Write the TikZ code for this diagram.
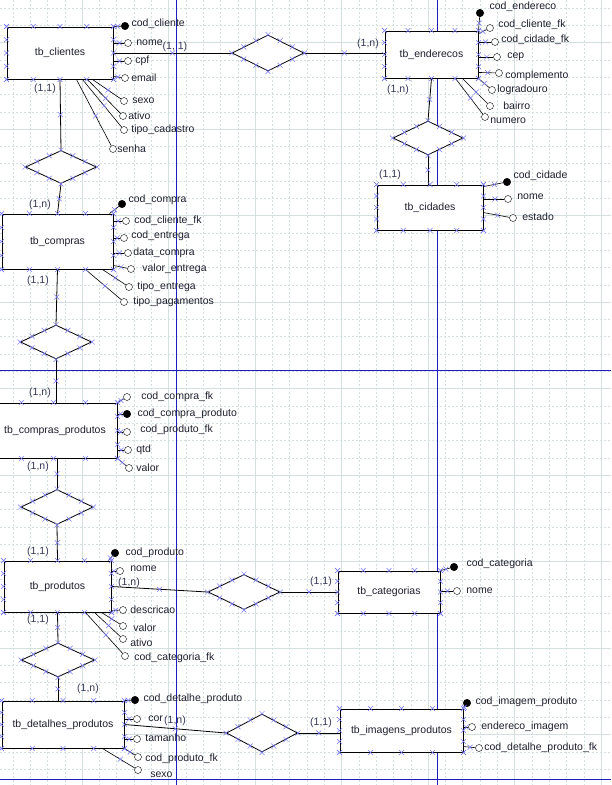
\documentclass[tikz,border=0pt]{standalone}
\usepackage{fontspec}
\setmainfont{Liberation Sans}
\usetikzlibrary{shapes.geometric,shapes.misc,calc,decorations.markings}

\definecolor{gridc}{RGB}{212,224,224}
\definecolor{pageblue}{RGB}{30,30,190}
\definecolor{xblue}{RGB}{120,120,240}
\definecolor{cardc}{RGB}{55,55,85}
\definecolor{txtc}{RGB}{30,30,45}

\tikzset{
  ent/.style={draw, fill=white, line width=0.9pt, rectangle, inner sep=0pt, text=txtc},
  rel/.style={draw, fill=white, diamond, line width=0.8pt, inner sep=0pt},
  pk/.style={circle, draw, fill=black, minimum size=7.5pt, inner sep=0pt},
  att/.style={circle, draw, fill=white, minimum size=7pt, inner sep=0pt},
  lbl/.style={inner sep=1pt, label distance=1.5pt, text=txtc},
  card/.style={text=cardc, inner sep=0pt},
  xmk/.style={cross out, draw=xblue, line width=0.5pt, minimum size=4.5pt, inner sep=0pt},
  link/.style={line width=0.8pt, postaction={decorate},
    decoration={markings, mark=at position 0.5 with {\node[xmk]{};}}},
  alink/.style={line width=0.6pt, postaction={decorate},
    decoration={markings, mark=at position 0.55 with {\node[xmk]{};}}}
}

% crosses round an entity and a relationship
\newcommand\markent[1]{%
  \foreach \f in {0,0.25,0.5,0.75,1}{
    \node[xmk] at ($(#1.north west)!\f!(#1.north east)$) {};
    \node[xmk] at ($(#1.south west)!\f!(#1.south east)$) {};
    \node[xmk] at ($(#1.north west)!\f!(#1.south west)$) {};
    \node[xmk] at ($(#1.north east)!\f!(#1.south east)$) {};
  }}
\newcommand\markrel[1]{%
  \foreach \p/\q in {north/east,east/south,south/west,west/north}{
    \node[xmk] at (#1.\p) {};
    \node[xmk] at ($(#1.\p)!0.33!(#1.\q)$) {};
    \node[xmk] at ($(#1.\p)!0.67!(#1.\q)$) {};
  }}

\begin{document}
\begin{tikzpicture}[x=1pt, y=-1pt, font=\fontsize{10.5}{12}\selectfont]
\useasboundingbox (0,0) rectangle (611,785);
% grid
\foreach \i in {0,...,35}
  \draw[gridc, dash pattern=on 2pt off 2pt] ({-4.5+17.3*\i},0) -- ++(0,785);
\foreach \j in {0,...,44}
  \draw[gridc, dash pattern=on 2pt off 2pt] (0,{7.9+17.3*\j}) -- ++(611,0);
\foreach \i in {0,...,7}
  \draw[gridc, line width=0.8pt] ({-4.5+86.5*\i},0) -- ++(0,785);
\foreach \j in {0,...,8}
  \draw[gridc, line width=0.8pt] (0,{42.5+86.5*\j}) -- ++(611,0);
% page borders
\draw[pageblue, line width=1pt] (176,0) -- (176,785);
\draw[pageblue, line width=1pt] (437.5,0) -- (437.5,785);
\draw[pageblue, line width=1pt] (0,370) -- (611,370) (0,779) -- (611,779);

% entities
\node[ent, minimum width=106pt, minimum height=52pt] (clientes) at (60,53) {tb\_clientes};
\node[ent, minimum width=93pt, minimum height=47pt] (enderecos) at (431.5,54.5) {tb\_enderecos};
\node[ent, minimum width=106pt, minimum height=45pt] (cidades) at (430,207.5) {tb\_cidades};
\node[ent, minimum width=111pt, minimum height=55pt] (compras) at (57.5,241.5) {tb\_compras};
\node[ent, minimum width=127pt, minimum height=55pt] (cprod) at (53.5,430.5) {\hspace*{3pt}tb\_compras\_produtos};
\node[ent, minimum width=107pt, minimum height=51pt] (produtos) at (57.5,586.5) {tb\_produtos};
\node[ent, minimum width=102pt, minimum height=42pt] (categorias) at (389,592) {tb\_categorias};
\node[ent, minimum width=122pt, minimum height=47pt] (detalhes) at (63,724.5) {tb\_detalhes\_produtos};
\node[ent, minimum width=123pt, minimum height=43pt] (imagens) at (401.5,730.5) {tb\_imagens\_produtos};

% relationships
\node[rel, minimum width=72pt, minimum height=36pt] (r1) at (268,53) {};
\node[rel, minimum width=70pt, minimum height=34pt] (r2) at (428,138) {};
\node[rel, minimum width=71pt, minimum height=33pt] (r3) at (61,167) {};
\node[rel, minimum width=71pt, minimum height=34pt] (r4) at (56,342) {};
\node[rel, minimum width=72pt, minimum height=35pt] (r5) at (57,507) {};
\node[rel, minimum width=72pt, minimum height=35pt] (r6) at (244,592) {};
\node[rel, minimum width=73pt, minimum height=34pt] (r7) at (58,660) {};
\node[rel, minimum width=71pt, minimum height=38pt] (r8) at (262,733) {};

\draw[link] (clientes.east) -- (r1.west);
\draw[link] (r1.east) -- (r1.east -| enderecos.west);
\draw[link] (enderecos.south) -- (r2.north);
\draw[link] (r2.south) -- (r2.south |- cidades.north);
\draw[link] (clientes.south) -- (r3.north);
\draw[link] (r3.south) -- (compras.north);
\draw[link] (compras.south) -- (r4.north);
\draw[link] (r4.south) -- (r4.south |- cprod.north);
\draw[link] (r5.north |- cprod.south) -- (r5.north);
\draw[link] (r5.south) -- (produtos.north);
\draw[link] (produtos.east) -- (r6.west);
\draw[link] (r6.east) -- (r6.east -| categorias.west);
\draw[link] (produtos.south) -- (r7.north);
\draw[link] (r7.south) -- (r7.south |- detalhes.north);
\draw[link] (detalhes.east) -- (r8.west);
\draw[link] (r8.east) -- (r8.east -| imagens.west);

% cardinalities
\node[card] (k1) at (175,47) {(1, 1)};
\node[card] (k2) at (368,44) {(1,n)};
\node[card] (k3) at (45,89) {(1,1)};
\node[card] (k4) at (40,205) {(1,n)};
\node[card] (k5) at (398,90) {(1,n)};
\node[card] (k6) at (390,175) {(1,1)};
\node[card] (k7) at (38,281) {(1,1)};
\node[card] (k8) at (40,393) {(1,n)};
\node[card] (k9) at (38,467) {(1,n)};
\node[card] (k10) at (38,552) {(1,1)};
\node[card] (k11) at (38,620) {(1,1)};
\node[card] (k12) at (129,583) {(1,n)};
\node[card] (k13) at (321,582) {(1,1)};
\node[card] (k14) at (88,689) {(1,n)};
\node[card] (k15) at (175,721) {(1,n)};
\node[card] (k16) at (321,723) {(1,1)};

% tb_clientes
\node[pk, label={[lbl, yshift=2pt]right:cod\_cliente}] (cl1) at (125,26) {};
\node[att, label={[lbl, xshift=2pt]right:nome}] (cl2) at (128,43) {};
\node[att, label={[lbl, xshift=1pt]right:cpf}] (cl3) at (128,61) {};
\node[att, label={[lbl]right:email}] (cl4) at (125,78) {};
\node[att, label={[lbl, xshift=2pt]right:sexo}] (cl5) at (124,101) {};
\node[att, label={[lbl, xshift=-1pt]right:ativo}] (cl6) at (123,116) {};
\node[att, label={[lbl, xshift=1pt]right:tipo\_cadastro}] (cl7) at (124,130) {};
\node[att, label={[lbl, xshift=-2pt]right:senha}] (cl8) at (113,149) {};
\draw[alink] (clientes.north east) -- (cl1);
\draw[alink] (clientes.east |- cl2) -- (cl2);
\draw[alink] (clientes.east |- cl3) -- (cl3);
\draw[alink] ([yshift=3pt]clientes.south east) -- (cl4);
\draw[alink] ([xshift=-21pt]clientes.south east) -- (cl5);
\draw[alink] ([xshift=-26pt]clientes.south east) -- (cl6);
\draw[alink] ([xshift=-31pt]clientes.south east) -- (cl7);
\draw[alink] ([xshift=-37pt]clientes.south east) -- (cl8);

% tb_enderecos
\node[pk, label={[lbl, xshift=3pt, yshift=6pt]right:cod\_endereco}] (en1) at (480,13) {};
\node[att, label={[lbl, xshift=2pt, yshift=3pt]right:cod\_cliente\_fk}] (en2) at (490,28) {};
\node[att, label={[lbl, yshift=2pt]right:cod\_cidade\_fk}] (en3) at (495,42) {};
\node[att, label={[lbl, xshift=4pt]right:cep}] (en4) at (497,57) {};
\node[att, label={[lbl, yshift=-3pt]right:complemento}] (en5) at (499,73) {};
\node[att, label={[lbl, xshift=-1pt]right:logradouro}] (en6) at (492,90) {};
\node[att, label={[lbl, xshift=7pt]right:bairro}] (en7) at (490,106) {};
\node[att, label={[lbl, xshift=-1pt, yshift=-4pt]right:numero}] (en8) at (485,117) {};
\draw[alink] (enderecos.north east) -- (en1);
\draw[alink] ([yshift=-3pt]enderecos.north east) -- (en2);
\draw[alink] (enderecos.east |- en3) -- (en3);
\draw[alink] (enderecos.east |- en4) -- (en4);
\draw[alink] ([yshift=6pt]enderecos.south east) -- (en5);
\draw[alink] (enderecos.south east) -- (en6);
\draw[alink] ([xshift=-16pt]enderecos.south east) -- (en7);
\draw[alink] ([xshift=-23pt]enderecos.south east) -- (en8);

% tb_cidades
\node[pk, label={[lbl, yshift=6pt]right:cod\_cidade}] (ci1) at (507,182) {};
\node[att, label={[lbl, xshift=3pt, yshift=2pt]right:nome}] (ci2) at (508,199) {};
\node[att, label={[lbl, xshift=3pt, yshift=1pt]right:estado}] (ci3) at (513,218) {};
\draw[alink] ([yshift=-2pt]cidades.north east) -- (ci1);
\draw[alink] (cidades.east |- ci2) -- (ci2);
\draw[alink] ([yshift=-28pt]cidades.north east) -- (ci3);

% tb_compras
\node[pk, label={[lbl, yshift=4pt]right:cod\_compra}] (co1) at (122,204) {};
\node[att, label={[lbl, xshift=2pt]right:cod\_cliente\_fk}] (co2) at (126,221) {};
\node[att, label={[lbl, xshift=1pt, yshift=2pt]right:cod\_entrega}] (co3) at (124,238) {};
\node[att, label={[lbl, xshift=-1pt]right:data\_compra}] (co4) at (128,253) {};
\node[att, label={[lbl, xshift=5pt]right:valor\_entrega}] (co5) at (131,269) {};
\node[att, label={[lbl, xshift=2pt]right:tipo\_entrega}] (co6) at (129,287) {};
\node[att, label={[lbl, xshift=3pt]right:tipo\_pagamentos}] (co7) at (124,302) {};
\draw[alink] ([xshift=-4pt]compras.north east) -- (co1);
\draw[alink] (compras.east |- co2) -- (co2);
\draw[alink] (compras.east |- co3) -- (co3);
\draw[alink] (compras.east |- co4) -- (co4);
\draw[alink] ([yshift=4pt]compras.south east) -- (co5);
\draw[alink] ([xshift=-11pt]compras.south east) -- (co6);
\draw[alink] ([xshift=-28pt]compras.south east) -- (co7);

% tb_compras_produtos
\node[att, label={[lbl, xshift=8pt]right:cod\_compra\_fk}] (cp1) at (127,397) {};
\node[pk, label={[lbl, xshift=4pt]right:cod\_compra\_produto}] (cp2) at (127,414) {};
\node[att, label={[lbl, xshift=7pt, yshift=2pt]right:cod\_produto\_fk}] (cp3) at (127,432) {};
\node[att, label={[lbl, xshift=2pt]right:qtd}] (cp4) at (128,450) {};
\node[att, label={[lbl, xshift=1pt]right:valor}] (cp5) at (129,468) {};
\draw[alink] (cprod.north east) -- (cp1);
\draw[alink] (cprod.east |- cp2) -- (cp2);
\draw[alink] (cprod.east |- cp3) -- (cp3);
\draw[alink] (cprod.east |- cp4) -- (cp4);
\draw[alink] (cprod.south east) -- (cp5);

% tb_produtos
\node[pk, label={[lbl, xshift=4pt]right:cod\_produto}] (pr1) at (115,553) {};
\node[att, label={[lbl, xshift=4pt, yshift=2pt]right:nome}] (pr2) at (120,571) {};
\node[att, label={[lbl, xshift=1pt]right:descricao}] (pr3) at (123,610) {};
\node[att, label={[lbl, xshift=4pt, yshift=-2pt]right:valor}] (pr4) at (123,626) {};
\node[att, label={[lbl, xshift=1pt, yshift=-4pt]right:ativo}] (pr5) at (123,639) {};
\node[att, label={[lbl, xshift=3pt, yshift=-2pt]right:cod\_categoria\_fk}] (pr6) at (125,656) {};
\draw[alink] ([xshift=-3pt]produtos.north east) -- (pr1);
\draw[alink] (produtos.east |- pr2) -- (pr2);
\draw[alink] ([yshift=2pt]produtos.south east) -- (pr3);
\draw[alink] ([xshift=-10pt]produtos.south east) -- (pr4);
\draw[alink] ([xshift=-17pt]produtos.south east) -- (pr5);
\draw[alink] ([xshift=-26pt]produtos.south east) -- (pr6);

% tb_categorias
\node[pk, label={[lbl, xshift=6pt, yshift=3pt]right:cod\_categoria}] (ca1) at (454,567) {};
\node[att, label={[lbl, xshift=3pt]right:nome}] (ca2) at (457,591) {};
\draw[alink] (categorias.north east) -- (ca1);
\draw[alink] (categorias.east |- ca2) -- (ca2);

% tb_detalhes_produtos
\node[pk, label={[lbl, xshift=2pt, yshift=1pt]right:cod\_detalhe\_produto}] (de1) at (135,700) {};
\node[att, label={[lbl, xshift=5pt]right:cor}] (de2) at (137,719) {};
\node[att, label={[lbl, xshift=2pt, yshift=1pt]right:tamanho}] (de3) at (137,739) {};
\node[att, label={[lbl, xshift=1pt, yshift=-2pt]right:cod\_produto\_fk}] (de4) at (138,757) {};
\node[att, label={[lbl, xshift=6pt, yshift=-5pt]right:sexo}] (de5) at (138,770) {};
\draw[alink] (detalhes.north east) -- (de1);
\draw[alink] (detalhes.east |- de2) -- (de2);
\draw[alink] (detalhes.east |- de3) -- (de3);
\draw[alink] (detalhes.south east) -- (de4);
\draw[alink] ([xshift=-22pt]detalhes.south east) -- (de5);

% tb_imagens_produtos
\node[pk, label={[lbl, xshift=2pt, yshift=1pt]right:cod\_imagem\_produto}] (im1) at (467,703) {};
\node[att, label={[lbl, xshift=3pt]right:endereco\_imagem}] (im2) at (472,727) {};
\node[att, label={[lbl, xshift=-1pt]right:cod\_detalhe\_produto\_fk}] (im3) at (479,748) {};
\draw[alink] (imagens.north east) -- (im1);
\draw[alink] (imagens.east |- im2) -- (im2);
\draw[alink] ([yshift=-38pt]imagens.north east) -- (im3);

% handles
\foreach \e in {clientes,enderecos,cidades,compras,cprod,produtos,categorias,detalhes,imagens}
  {\markent{\e}}
\foreach \r in {r1,r2,r3,r4,r5,r6,r7,r8}
  {\markrel{\r}}
\end{tikzpicture}
\end{document}
